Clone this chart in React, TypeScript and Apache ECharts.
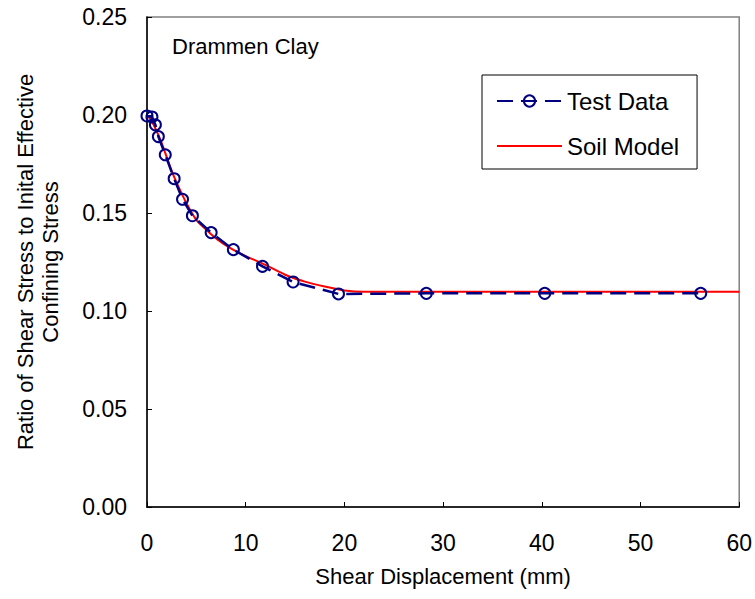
import React, { useEffect, useRef } from 'react';
import * as echarts from 'echarts';

// Test data (shear displacement mm, stress ratio)
const testX = [0, 0.5, 0.85, 1.15, 1.85, 2.75, 3.6, 4.6, 6.5, 8.75, 11.7, 14.8, 19.4, 28.3, 40.3, 56.1];
const testY = [0.1995, 0.199, 0.195, 0.189, 0.1797, 0.1675, 0.157, 0.1486, 0.14, 0.1313, 0.1228, 0.1148, 0.1087, 0.109, 0.109, 0.109];

// Soil model curve
const modelX = [0, 0.5, 1, 1.5, 2, 2.5, 3, 4, 5, 6, 7, 8, 9, 10, 12, 14, 16, 18, 20, 22, 60];
const modelY = [0.2, 0.1965, 0.1915, 0.1855, 0.1785, 0.1715, 0.1655, 0.155, 0.1465, 0.1415, 0.137, 0.1335, 0.1305, 0.128, 0.1235, 0.1185, 0.115, 0.1125, 0.1105, 0.1098, 0.1098];

const xTickValues = [0, 10, 20, 30, 40, 50, 60];
const yTickValues = [0, 0.05, 0.1, 0.15, 0.2, 0.25];

export default function App() {
  const ref = useRef<HTMLDivElement>(null);
  useEffect(() => {
    const chart = echarts.init(ref.current!, null, { renderer: 'svg' });
    const font = "'Liberation Sans', Arial, sans-serif";
    chart.setOption({
      animation: false,
      backgroundColor: '#ffffff',
      textStyle: { fontFamily: font, color: '#000' },
      grid: { left: 147, top: 17, right: 14, bottom: 92, show: true, borderColor: '#808080', borderWidth: 1.5 },
      xAxis: {
        type: 'value',
        min: xTickValues[0],
        max: xTickValues[xTickValues.length - 1],
        interval: 10,
        name: 'Shear Displacement (mm)',
        nameLocation: 'middle',
        nameGap: 58,
        nameTextStyle: { fontSize: 22, color: '#000', fontFamily: font },
        axisLine: { show: true, onZero: false, lineStyle: { color: '#000', width: 1.5 } },
        axisTick: { show: true, inside: true, length: 5, lineStyle: { color: '#000' } },
        splitLine: { show: false },
        axisLabel: { fontSize: 23, color: '#000', margin: 24, fontFamily: font },
      },
      yAxis: {
        type: 'value',
        min: yTickValues[0],
        max: yTickValues[yTickValues.length - 1],
        interval: 0.05,
        name: 'Ratio of Shear Stress to Inital Effective\nConfining Stress',
        nameLocation: 'middle',
        nameRotate: 90,
        nameGap: 84,
        nameTextStyle: { fontSize: 22, color: '#000', lineHeight: 25, fontFamily: font },
        axisLine: { show: true, onZero: false, lineStyle: { color: '#000', width: 1.5 } },
        axisTick: { show: true, inside: true, length: 5, lineStyle: { color: '#000' } },
        splitLine: { show: false },
        axisLabel: { fontSize: 23, color: '#000', margin: 20, fontFamily: font, formatter: (v: number) => v.toFixed(2) },
      },
      legend: {
        data: ['Test Data', 'Soil Model'],
        orient: 'vertical',
        left: 482,
        top: 75,
        padding: [14, 18, 11, 14],
        itemWidth: 65,
        itemHeight: 14,
        itemGap: 21,
        borderColor: '#000',
        borderWidth: 1,
        backgroundColor: '#fff',
        textStyle: { fontSize: 24, color: '#000', lineHeight: 23, fontFamily: font },
      },
      graphic: [
        {
          type: 'text',
          left: 172,
          top: 35,
          style: { text: 'Drammen Clay', fontSize: 22, fill: '#000', fontFamily: font },
        },
      ],
      series: [
        {
          name: 'Soil Model',
          type: 'line',
          data: modelX.map((x, i) => [x, modelY[i]]),
          symbol: 'none',
          smooth: 0.3,
          lineStyle: { color: '#ff0000', width: 2 },
          itemStyle: { color: 'rgba(0,0,0,0)', borderColor: 'rgba(0,0,0,0)' },
          z: 2,
        },
        {
          name: 'Test Data',
          type: 'line',
          data: testX.map((x, i) => [x, testY[i]]),
          symbol: 'circle',
          symbolSize: 11,
          showSymbol: true,
          itemStyle: { color: 'rgba(0,0,0,0)', borderColor: '#000080', borderWidth: 2 },
          lineStyle: { color: '#000080', width: 2.5, type: [16, 8] },
          z: 3,
        },
      ],
    });
    return () => chart.dispose();
  }, []);
  return (
    <div
      ref={ref}
      style={{ position: 'fixed', left: 0, top: 0, width: 755, height: 599, background: '#fff' }}
    />
  );
}
